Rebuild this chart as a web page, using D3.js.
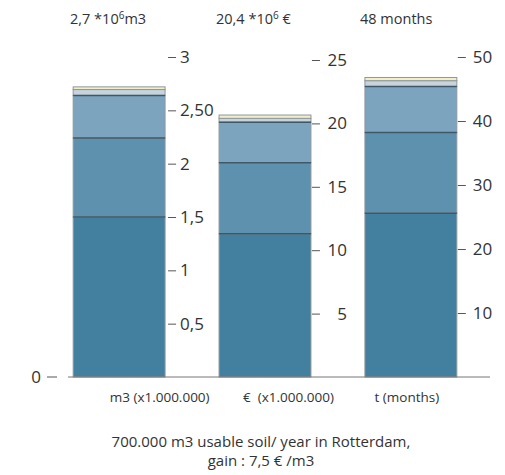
<!DOCTYPE html>
<html>
<head>
<meta charset="utf-8">
<title>Soil reuse stacked bars</title>
<script src="https://d3js.org/d3.v7.min.js"></script>
<style>
  body { margin: 0; background: #fff; }
  svg text { font-family: "Open Sans", sans-serif; fill: #333; white-space: pre; }
</style>
</head>
<body>
<div id="chart"></div>
<script>
  // categories (one bar each, every bar has its own scale)
  const categories = ["m3 (x1.000.000)", "€  (x1.000.000)", "t (months)"];
  const totals = ["2,7 *10|6|m3", "20,4 *10|6| €", "48 months"];

  // stacked segments, bottom to top, per category
  const seg1 = [1.5, 11.3, 25.6];
  const seg2 = [0.74, 5.6, 12.6];
  const seg3 = [0.40, 3.2, 7.2];
  const seg4 = [0.055, 0.3, 0.9];
  const seg5 = [0.025, 0.26, 0.5];
  const series = [seg1, seg2, seg3, seg4, seg5];
  const seriesColors = ["#437f9e", "#5e91ad", "#7ca4be", "#c9d3db", "#f4eec6"];

  // axis per bar
  const axisMax = [3, 25, 50];
  const tickValues = [[0.5, 1, 1.5, 2, 2.5, 3], [5, 10, 15, 20, 25], [10, 20, 30, 40, 50]];
  const tickLabels = [["0,5", "1", "1,5", "2", "2,50", "3"], ["5", "10", "15", "20", "25"], ["10", "20", "30", "40", "50"]];

  const W = 505, H = 475;
  const baseY = 377;

  const svg = d3.select("#chart").append("svg")
    .attr("width", W)
    .attr("height", H);

  const x = d3.scaleBand()
    .domain(categories)
    .range([44, 486])
    .paddingInner(0.37)
    .paddingOuter(0.2);

  const tops = [57, 60, 57];
  const yScales = axisMax.map((m, i) => d3.scaleLinear().domain([0, m]).range([baseY, tops[i]]));

  // build stacks
  const stacks = categories.map((c, i) => {
    let acc = 0;
    return series.map((s, k) => {
      const d = { cat: c, i: i, k: k, y0: acc, y1: acc + s[i] };
      acc += s[i];
      return d;
    });
  });

  const bars = svg.append("g");
  stacks.forEach((stack, i) => {
    const g = bars.append("g");
    const y = yScales[i];
    g.selectAll("rect")
      .data(stack)
      .enter().append("rect")
      .attr("x", d => x(d.cat))
      .attr("width", x.bandwidth())
      .attr("y", d => y(d.y1))
      .attr("height", d => y(d.y0) - y(d.y1))
      .attr("fill", d => seriesColors[d.k])
      .attr("stroke", "#8e979d")
      .attr("stroke-width", 1);
    // darker separating lines between main segments
    g.selectAll("line.sep")
      .data(stack.slice(1, 4))
      .enter().append("line")
      .attr("class", "sep")
      .attr("x1", d => x(d.cat))
      .attr("x2", d => x(d.cat) + x.bandwidth())
      .attr("y1", d => y(d.y0))
      .attr("y2", d => y(d.y0))
      .attr("stroke", "#3f5868")
      .attr("stroke-width", 1.5);
  });

  // per-bar right axes
  const labelPos = [
    { dx: 15, anchor: "start" },
    { dx: 36, anchor: "end" },
    { dx: 16, anchor: "start" }
  ];
  const tickStart = [3, 1, 1];
  categories.forEach((c, i) => {
    const right = x(c) + x.bandwidth();
    const ax = svg.append("g")
      .attr("transform", `translate(${right + tickStart[i]},0)`)
      .call(d3.axisRight(yScales[i])
        .tickValues(tickValues[i])
        .tickSize(8)
        .tickFormat((d, j) => tickLabels[i][j]));
    ax.select(".domain").remove();
    ax.selectAll(".tick line").attr("stroke", "#555");
    ax.selectAll(".tick text")
      .attr("x", labelPos[i].dx - tickStart[i])
      .attr("text-anchor", labelPos[i].anchor)
      .style("font-family", "'Open Sans', sans-serif")
      .style("font-size", "17px")
      .attr("fill", "#333");
  });

  // baseline and zero label
  svg.append("line")
    .attr("x1", 68).attr("x2", 490)
    .attr("y1", baseY).attr("y2", baseY)
    .attr("stroke", "#777").attr("stroke-width", 1);
  svg.append("line")
    .attr("x1", 47).attr("x2", 57)
    .attr("y1", baseY).attr("y2", baseY)
    .attr("stroke", "#555");
  svg.append("text")
    .attr("x", 36).attr("y", baseY)
    .attr("dy", "0.35em")
    .attr("text-anchor", "middle")
    .style("font-size", "17px")
    .text("0");

  // category labels
  svg.selectAll(".cat")
    .data(categories)
    .enter().append("text")
    .attr("class", "cat")
    .attr("x", (d, i) => x(d) + x.bandwidth() / 2 + [40.5, 23.5, -4][i])
    .attr("y", 397)
    .attr("dy", "0.35em")
    .attr("text-anchor", "middle")
    .style("font-size", "13.5px")
    .text(d => d);

  // totals on top, with superscript
  const totalX = [70, 216, 360];
  totals.forEach((t, i) => {
    const parts = t.split("|");
    const txt = svg.append("text")
      .attr("x", totalX[i])
      .attr("y", 24)
      .style("font-size", "14.5px");
    txt.append("tspan").text(parts[0]);
    txt.append("tspan").attr("dy", -5).style("font-size", "10px").text(parts[1]);
    txt.append("tspan").attr("dy", 5).text(parts[2]);
  });

  // caption
  const caption = ["700.000 m3 usable soil/ year in Rotterdam,", "gain : 7,5 € /m3"];
  svg.selectAll(".cap")
    .data(caption)
    .enter().append("text")
    .attr("class", "cap")
    .attr("x", 261)
    .attr("y", (d, i) => 442 + i * 19)
    .attr("dy", "0.35em")
    .attr("text-anchor", "middle")
    .style("font-size", "15px")
    .text(d => d);
</script>
</body>
</html>
